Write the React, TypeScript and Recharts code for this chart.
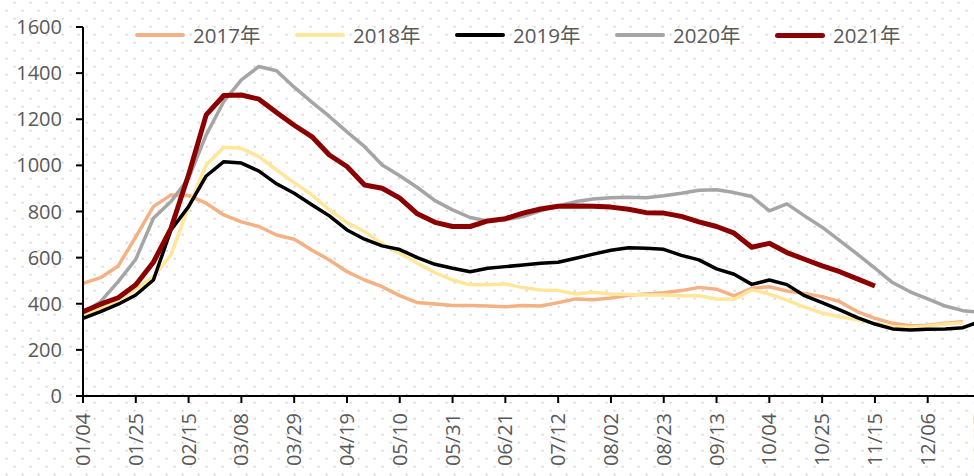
import { LineChart, Line, XAxis, YAxis, Legend } from "recharts";

const font = "'Open Sans', 'Noto Sans CJK SC', sans-serif";

// weekly dates (2021 calendar)
const dates = [
  "01/04", "01/11", "01/18", "01/25", "02/01", "02/08", "02/15", "02/22", "03/01", "03/08",
  "03/15", "03/22", "03/29", "04/05", "04/12", "04/19", "04/26", "05/03", "05/10", "05/17",
  "05/24", "05/31", "06/07", "06/14", "06/21", "06/28", "07/05", "07/12", "07/19", "07/26",
  "08/02", "08/09", "08/16", "08/23", "08/30", "09/06", "09/13", "09/20", "09/27", "10/04",
  "10/11", "10/18", "10/25", "11/01", "11/08", "11/15", "11/22", "11/29", "12/06", "12/13",
  "12/20", "12/27",
];

const v2017 = [
  489, 513, 564, 690, 821, 872, 869, 836, 785, 755, 735, 698, 680, 633, 590, 539, 503, 474, 435, 405,
  399, 392, 392, 390, 387, 392, 390, 405, 421, 417, 425, 437, 442, 448, 457, 471, 463, 434, 467, 474,
  455, 445, 431, 409, 366, 337, 315, 305, 307, 315, 322,
];
const v2018 = [
  350, 380, 416, 463, 518, 612, 821, 1002, 1079, 1074, 1038, 980, 925, 872, 807, 752, 713, 659, 619, 576,
  535, 503, 482, 482, 486, 470, 460, 457, 442, 450, 442, 440, 438, 438, 435, 435, 421, 419, 460, 442,
  416, 385, 360, 344, 330, 315, 301, 298, 304, 312, 318,
];
const v2019 = [
  337, 366, 398, 438, 503, 720, 821, 954, 1016, 1010, 975, 920, 879, 829, 781, 720, 680, 651, 635, 600,
  571, 554, 539, 554, 561, 568, 576, 580, 597, 615, 632, 643, 641, 636, 610, 590, 551, 528, 484, 503,
  483, 435, 405, 373, 340, 312, 291, 286, 289, 291, 296, 325,
];
const v2020 = [
  360, 409, 496, 593, 771, 843, 944, 1132, 1277, 1371, 1429, 1410, 1339, 1274, 1212, 1145, 1081, 1002, 955, 904,
  847, 807, 774, 759, 764, 778, 803, 824, 843, 854, 860, 862, 860, 868, 879, 892, 894, 882, 865, 803,
  833, 781, 732, 674, 615, 554, 492, 452, 421, 390, 370, 362,
];
const v2021 = [
  366, 398, 426, 482, 580, 727, 959, 1219, 1303, 1305, 1287, 1229, 1174, 1125, 1045, 995, 915, 901, 858, 790,
  753, 735, 735, 759, 769, 793, 811, 823, 824, 823, 819, 810, 795, 793, 779, 755, 735, 706, 645, 662,
  622, 593, 564, 539, 508, 477,
];

const yTicks = [0, 200, 400, 600, 800, 1000, 1200, 1400, 1600];
const xTicks = dates.map((_, i) => i).filter((i) => i % 3 === 0);

const series = [
  { key: "y2017", name: "2017年", color: "#F4B183", width: 3.5 },
  { key: "y2018", name: "2018年", color: "#FFE699", width: 3.5 },
  { key: "y2019", name: "2019年", color: "#000000", width: 3.5 },
  { key: "y2020", name: "2020年", color: "#A5A5A5", width: 3.5 },
  { key: "y2021", name: "2021年", color: "#8B0000", width: 5 },
];

const data = dates.map((d, i) => ({
  x: i,
  date: d,
  y2017: v2017[i],
  y2018: v2018[i],
  y2019: v2019[i],
  y2020: v2020[i],
  y2021: v2021[i],
}));

const XTick = ({ x, y, payload }: any) => (
  <g transform={`translate(${x},${y})`}>
    <text
      transform="rotate(-90)"
      textAnchor="end"
      dy="0.35em"
      fill="#595959"
      fontSize={20}
      fontFamily={font}
    >
      {dates[payload.value]}
    </text>
  </g>
);

const renderLegend = () => (
  <div style={{ display: "flex", paddingLeft: 135, height: 28, fontFamily: font }}>
    {series.map((s) => (
      <div key={s.key} style={{ display: "flex", alignItems: "center", width: 160 }}>
        <span
          style={{
            display: "inline-block",
            width: 50,
            height: s.width,
            background: s.color,
            borderRadius: s.width,
            marginRight: 8,
          }}
        />
        <span style={{ fontSize: 20.5, color: "#595959", lineHeight: "28px" }}>{s.name}</span>
      </div>
    ))}
  </div>
);

export default function App() {
  return (
    <div
      style={{
        position: "absolute",
        left: 0,
        top: 0,
        width: 974,
        height: 476,
        overflow: "hidden",
        background: "#fff",
        backgroundImage:
          "radial-gradient(circle, #d6d6d6 1px, transparent 1.4px), radial-gradient(circle, #d6d6d6 1px, transparent 1.4px)",
        backgroundSize: "16px 16px, 16px 16px",
        backgroundPosition: "6.7px 10.7px, 14.7px 2.7px",
      }}
    >
      <LineChart
        width={974}
        height={476}
        data={data}
        margin={{ top: 27, right: 0, left: 0, bottom: 0 }}
      >
        <XAxis
          type="number"
          dataKey="x"
          domain={[0, 50.63]}
          allowDataOverflow
          ticks={xTicks}
          interval={0}
          height={80}
          tick={<XTick />}
          tickSize={7}
          tickMargin={10}
          axisLine={{ stroke: "#000", strokeWidth: 2 }}
          tickLine={{ stroke: "#000", strokeWidth: 2 }}
        />
        <YAxis
          domain={[0, 1600]}
          ticks={yTicks}
          width={83}
          tickSize={7}
          tickMargin={14}
          tick={{ fill: "#595959", fontSize: 20, fontFamily: font }}
          axisLine={{ stroke: "#000", strokeWidth: 2 }}
          tickLine={{ stroke: "#000", strokeWidth: 2 }}
        />
        <Legend
          verticalAlign="middle"
          align="center"
          layout="horizontal"
          wrapperStyle={{ top: 21, left: 0, width: 974 }}
          content={renderLegend}
        />
        {series.map((s) => (
          <Line
            key={s.key}
            dataKey={s.key}
            name={s.name}
            type="linear"
            stroke={s.color}
            strokeWidth={s.width}
            strokeLinejoin="round"
            dot={false}
            activeDot={false}
            isAnimationActive={false}
          />
        ))}
      </LineChart>
    </div>
  );
}
